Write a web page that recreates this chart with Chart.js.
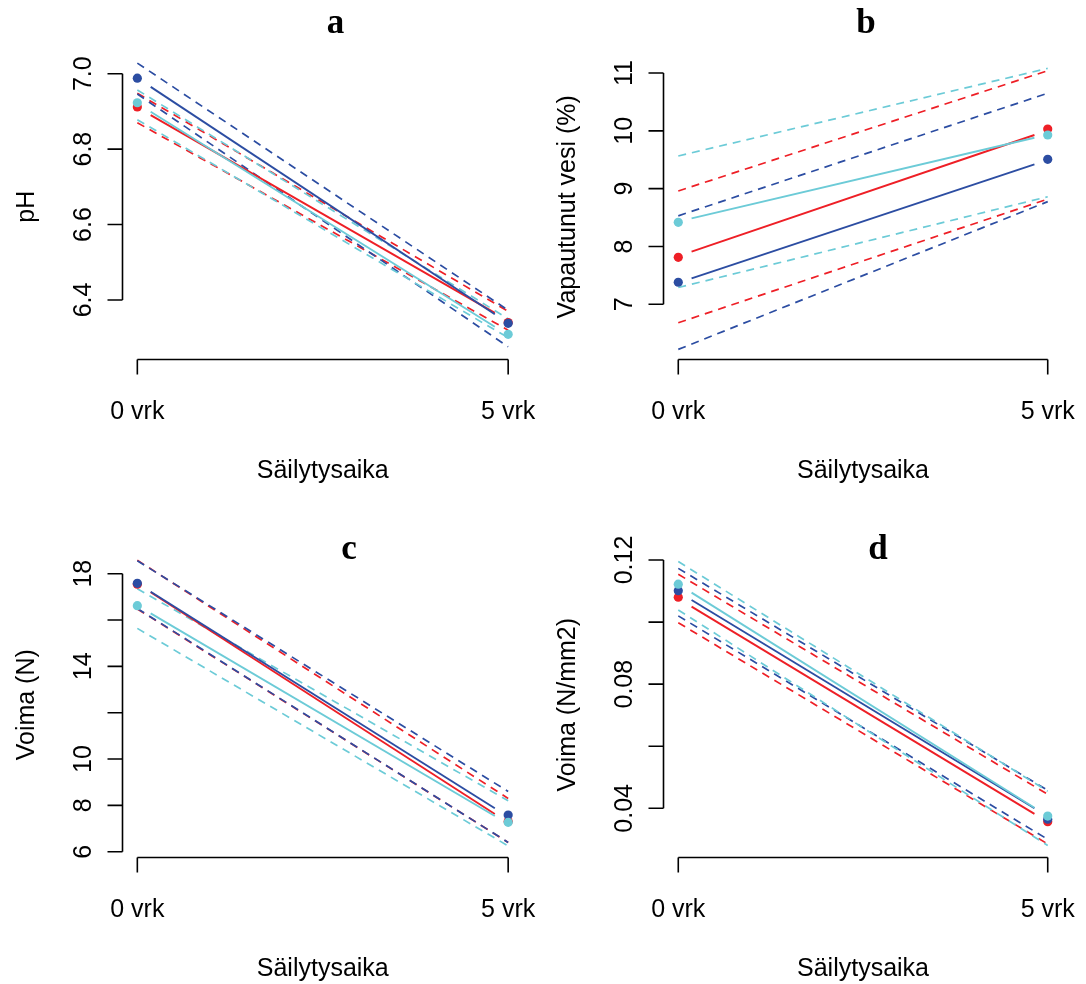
<!DOCTYPE html>
<html>
<head>
<meta charset="utf-8">
<script src="https://cdn.jsdelivr.net/npm/chart.js@4.4.1/dist/chart.umd.min.js"></script>
<style>
  html, body { margin: 0; padding: 0; background: #ffffff; }
  #wrap { position: relative; width: 1086px; height: 984px; overflow: hidden; background: #fff; }
  canvas { position: absolute; left: 0; top: 0; pointer-events: none; }
</style>
</head>
<body>
<div id="wrap">
  <canvas id="cA" width="1086" height="984"></canvas>
  <canvas id="cB" width="1086" height="984"></canvas>
  <canvas id="cC" width="1086" height="984"></canvas>
  <canvas id="cD" width="1086" height="984"></canvas>
</div>
<script>
// ---------- shared categories ----------
const timeValues = [0, 5];
const timeLabels = ['0 vrk', '5 vrk'];
const fitX = [0.18, 4.82];
const xTitle = 'Säilytysaika';

// ---------- panel a : pH ----------
const phTicks = [6.4, 6.6, 6.8, 7.0];
const phTickLabels = ['6.4', '6.6', '6.8', '7.0'];
const phDotBlue = [6.988, 6.338];
const phDotRed = [6.912, 6.340];
const phDotCyan = [6.923, 6.309];
const phFitBlue = [6.965, 6.362];
const phFitRed = [6.890, 6.366];
const phFitCyan = [6.899, 6.329];
const phUpBlue = [7.028, 6.373];
const phLoBlue = [6.946, 6.276];
const phUpRed = [6.948, 6.370];
const phLoRed = [6.870, 6.320];
const phUpCyan = [6.957, 6.350];
const phLoCyan = [6.878, 6.300];

// ---------- panel b : Vapautunut vesi (%) ----------
const wTicks = [7, 8, 9, 10, 11];
const wTickLabels = ['7', '8', '9', '10', '11'];
const wDotBlue = [7.381, 9.508];
const wDotRed = [7.813, 10.03];
const wDotCyan = [8.418, 9.928];
const wFitBlue = [7.45, 9.42];
const wFitRed = [7.91, 9.928];
const wFitCyan = [8.487, 9.88];
const wUpBlue = [8.53, 10.65];
const wLoBlue = [6.22, 8.775];
const wUpRed = [8.96, 11.04];
const wLoRed = [6.68, 8.82];
const wUpCyan = [9.565, 11.08];
const wLoCyan = [7.29, 8.86];

// ---------- panel c : Voima (N) ----------
const nTicks = [6, 8, 10, 12, 14, 16, 18];
const nTickLabels = ['6', '8', '10', '', '14', '', '18'];
const nDotBlue = [17.585, 7.585];
const nDotRed = [17.55, 7.30];
const nDotCyan = [16.62, 7.27];
const nFitBlue = [17.22, 7.875];
const nFitRed = [17.20, 7.63];
const nFitCyan = [16.29, 7.54];
const nUpBlue = [18.56, 8.6];
const nLoBlue = [16.50, 6.4];
const nUpRed = [18.58, 8.3];
const nLoRed = [16.48, 6.4];
const nUpCyan = [17.35, 8.2];
const nLoCyan = [15.64, 6.25];

// ---------- panel d : Voima (N/mm2) ----------
const sTicks = [0.04, 0.06, 0.08, 0.10, 0.12];
const sTickLabels = ['0.04', '', '0.08', '', '0.12'];
const sDotBlue = [0.1101, 0.0365];
const sDotRed = [0.1080, 0.0357];
const sDotCyan = [0.1122, 0.0375];
const sFitBlue = [0.1071, 0.0400];
const sFitRed = [0.1050, 0.0382];
const sFitCyan = [0.1095, 0.0402];
const sUpBlue = [0.1173, 0.0458];
const sLoBlue = [0.1020, 0.0300];
const sUpRed = [0.1154, 0.0445];
const sLoRed = [0.0998, 0.0285];
const sUpCyan = [0.1195, 0.0455];
const sLoCyan = [0.1039, 0.0280];

// ---------- styles ----------
const BLUE = '#2c4da2';
const RED = '#ee1f26';
const CYAN = '#6ccbd7';
const FONT = '"Liberation Sans", Arial, Helvetica, sans-serif';

function pts(xs, ys) { return xs.map((x, i) => ({ x: x, y: ys[i] })); }

function buildDatasets(s) {
  const ds = [];
  // z: smaller order = drawn on top
  const series = [
    { c: BLUE, z: 2, dot: s.dotBlue, fit: s.fitBlue, up: s.upBlue, lo: s.loBlue },
    { c: RED, z: 3, dot: s.dotRed, fit: s.fitRed, up: s.upRed, lo: s.loRed },
    { c: CYAN, z: 1, dot: s.dotCyan, fit: s.fitCyan, up: s.upCyan, lo: s.loCyan }
  ];
  series.forEach(sr => {
    [sr.up, sr.lo].forEach(b => ds.push({
      data: pts(timeValues, b), showLine: true, borderColor: sr.c, borderWidth: 1.7,
      borderDash: [8, 6], pointRadius: 0, fill: false, order: 20 + sr.z
    }));
  });
  series.forEach(sr => ds.push({
    data: pts(fitX, sr.fit), showLine: true, borderColor: sr.c, borderWidth: 1.9,
    pointRadius: 0, fill: false, order: 10 + sr.z
  }));
  series.forEach(sr => ds.push({
    data: pts(timeValues, sr.dot), showLine: false, pointRadius: 4.6,
    pointBackgroundColor: sr.c, pointBorderColor: sr.c, pointBorderWidth: 0, order: sr.z
  }));
  return ds;
}

const rAxes = {
  id: 'rAxes',
  afterDraw(chart, args, o) {
    const { ctx, chartArea } = chart;
    const x = chart.scales.x, y = chart.scales.y;
    ctx.save();
    ctx.strokeStyle = '#000';
    ctx.fillStyle = '#000';
    ctx.lineWidth = 1.6;
    const ax = chartArea.left;
    const ay = chartArea.bottom;
    // y axis
    const yt = o.yTicks;
    ctx.beginPath();
    ctx.moveTo(ax, y.getPixelForValue(yt[0]));
    ctx.lineTo(ax, y.getPixelForValue(yt[yt.length - 1]));
    yt.forEach(v => { const p = y.getPixelForValue(v); ctx.moveTo(ax, p); ctx.lineTo(ax - 15, p); });
    // x axis
    ctx.moveTo(x.getPixelForValue(timeValues[0]), ay);
    ctx.lineTo(x.getPixelForValue(timeValues[timeValues.length - 1]), ay);
    timeValues.forEach(v => { const p = x.getPixelForValue(v); ctx.moveTo(p, ay); ctx.lineTo(p, ay + 15); });
    ctx.stroke();

    const fs = 25;
    ctx.font = fs + 'px ' + FONT;
    ctx.textAlign = 'center';
    ctx.textBaseline = 'alphabetic';
    // y tick labels (rotated)
    yt.forEach((v, i) => {
      const lab = o.yLabels[i];
      if (!lab) return;
      const p = y.getPixelForValue(v);
      ctx.save();
      ctx.translate(ax - 41, p);
      ctx.rotate(-Math.PI / 2);
      ctx.fillText(lab, 0, fs * 0.36);
      ctx.restore();
    });
    // x tick labels
    timeValues.forEach((v, i) => {
      ctx.fillText(timeLabels[i], x.getPixelForValue(v), ay + 50 + fs * 0.36);
    });
    // x title
    const cx = (chartArea.left + chartArea.right) / 2;
    ctx.fillText(xTitle, cx, ay + 109 + fs * 0.36);
    // y title
    const cy = (chartArea.top + chartArea.bottom) / 2;
    ctx.save();
    ctx.translate(ax - 98, cy);
    ctx.rotate(-Math.PI / 2);
    ctx.fillText(o.yTitle, 0, fs * 0.36);
    ctx.restore();
    // panel letter
    ctx.font = 'bold 35px "Liberation Serif", "Times New Roman", serif';
    ctx.fillText(o.letter, o.letterX, o.letterY);
    ctx.restore();
  }
};

function makePanel(id, s) {
  const W = 1086, H = 984;
  new Chart(document.getElementById(id), {
    type: 'scatter',
    data: { datasets: buildDatasets(s) },
    options: {
      responsive: false,
      animation: false,
      events: [],
      layout: { padding: { left: s.area[0], top: s.area[1], right: W - s.area[2], bottom: H - s.area[3] } },
      plugins: {
        legend: { display: false },
        tooltip: { enabled: false },
        rAxes: { yTicks: s.yTicks, yLabels: s.yLabels, yTitle: s.yTitle, letter: s.letter, letterX: s.letterX, letterY: s.letterY }
      },
      scales: {
        x: { type: 'linear', display: false, min: -0.2, max: 5.2 },
        y: { type: 'linear', display: false, min: s.yMin, max: s.yMax }
      }
    },
    plugins: [rAxes]
  });
}

makePanel('cA', {
  area: [122.5, 54, 523, 359.5], yMin: 6.2422, yMax: 7.0522,
  yTicks: phTicks, yLabels: phTickLabels, yTitle: 'pH', letter: 'a', letterX: 335.5, letterY: 33,
  dotBlue: phDotBlue, dotRed: phDotRed, dotCyan: phDotCyan,
  fitBlue: phFitBlue, fitRed: phFitRed, fitCyan: phFitCyan,
  upBlue: phUpBlue, loBlue: phLoBlue, upRed: phUpRed, loRed: phLoRed, upCyan: phUpCyan, loCyan: phLoCyan
});
makePanel('cB', {
  area: [663.5, 54, 1062.5, 359.5], yMin: 6.0454, yMax: 11.3286,
  yTicks: wTicks, yLabels: wTickLabels, yTitle: 'Vapautunut vesi (%)', letter: 'b', letterX: 866, letterY: 33,
  dotBlue: wDotBlue, dotRed: wDotRed, dotCyan: wDotCyan,
  fitBlue: wFitBlue, fitRed: wFitRed, fitCyan: wFitCyan,
  upBlue: wUpBlue, loBlue: wLoBlue, upRed: wUpRed, loRed: wLoRed, upCyan: wUpCyan, loCyan: wLoCyan
});
makePanel('cC', {
  area: [122.5, 552, 523, 857.5], yMin: 5.7496, yMax: 18.937,
  yTicks: nTicks, yLabels: nTickLabels, yTitle: 'Voima (N)', letter: 'c', letterX: 349, letterY: 559,
  dotBlue: nDotBlue, dotRed: nDotRed, dotCyan: nDotCyan,
  fitBlue: nFitBlue, fitRed: nFitRed, fitCyan: nFitCyan,
  upBlue: nUpBlue, loBlue: nLoBlue, upRed: nUpRed, loRed: nLoRed, upCyan: nUpCyan, loCyan: nLoCyan
});
makePanel('cD', {
  area: [663.5, 552, 1062.5, 857.5], yMin: 0.02415, yMax: 0.12258,
  yTicks: sTicks, yLabels: sTickLabels, yTitle: 'Voima (N/mm2)', letter: 'd', letterX: 878, letterY: 559,
  dotBlue: sDotBlue, dotRed: sDotRed, dotCyan: sDotCyan,
  fitBlue: sFitBlue, fitRed: sFitRed, fitCyan: sFitCyan,
  upBlue: sUpBlue, loBlue: sLoBlue, upRed: sUpRed, loRed: sLoRed, upCyan: sUpCyan, loCyan: sLoCyan
});
</script>
</body>
</html>
